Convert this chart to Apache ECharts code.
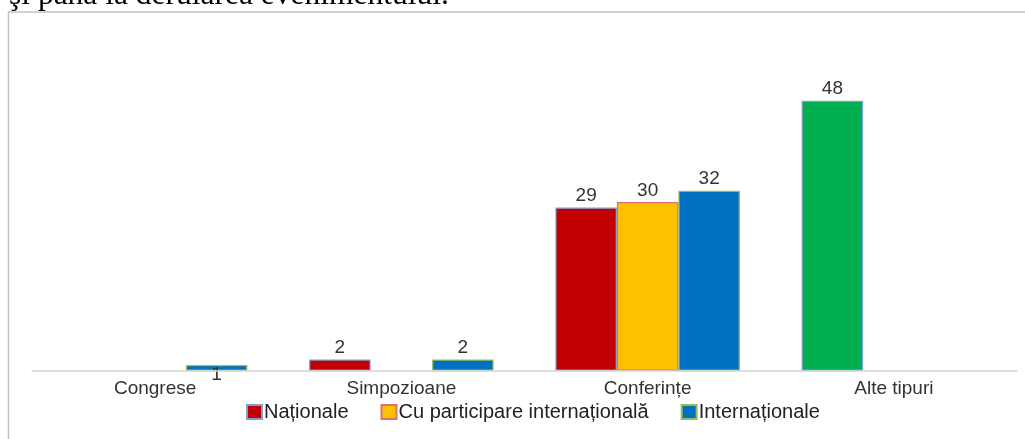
<!DOCTYPE html>
<html>
<head>
<meta charset="utf-8">
<script src="https://cdn.jsdelivr.net/npm/echarts@6/dist/echarts.min.js"></script>
<style>
html,body{margin:0;padding:0;background:#fff;}
#chart{width:1025px;height:439px;}
</style>
</head>
<body>
<div id="chart"></div>
<script>
var categories = ['Congrese', 'Simpozioane', 'Conferințe', 'Alte tipuri'];
var seriesNames = ['Naționale', 'Cu participare internațională', 'Internaționale'];
var nationale = [null, 2, 29, 48];
var cuParticipare = [null, null, 30, null];
var internationale = [1, 2, 32, null];
var headerText = 'şi până la derularea evenimentului.';

var fills = ['#C00000', '#FFC000', '#0070C0'];
var borders = ['#7F9FD0', '#E07070', '#9BBB59'];
var labelColor = '#333333';
var font = 'Liberation Sans, Arial, sans-serif';

function build(values, idx) {
  return values.map(function (v, i) {
    var item = { value: v };
    if (idx === 0 && i === 3) {
      item.itemStyle = { color: '#00B050', borderColor: '#7F9FD0' };
    }
    if (idx === 2 && i === 0) {
      item.label = { position: 'bottom', distance: -5 };
    }
    return item;
  });
}

var allValues = [nationale, cuParticipare, internationale];
var series = allValues.map(function (vals, idx) {
  return {
    name: seriesNames[idx],
    type: 'bar',
    data: build(vals, idx),
    barWidth: 61.5,
    barGap: '0%',
    itemStyle: { color: fills[idx], borderColor: borders[idx], borderWidth: 1.2 },
    label: { show: true, position: 'top', distance: 2, color: labelColor, fontSize: 19, fontFamily: font },
    z: 4
  };
});

var chart = echarts.init(document.getElementById('chart'));
chart.setOption({
  backgroundColor: '#ffffff',
  animation: false,
  graphic: [
    { type: 'text', left: 9, top: -20, z: 0, style: { text: headerText, font: '31.5px "Liberation Serif", "Times New Roman", serif', fill: '#000' } },
    { type: 'rect', z: 1, shape: { x: 8.5, y: 12, width: 1100, height: 600 }, style: { fill: '#ffffff', stroke: '#c3c3c3', lineWidth: 1.5 } }
  ],
  legend: {
    left: 241, top: 397,
    itemWidth: 15, itemHeight: 14, itemGap: 32,
    icon: 'rect',
    textStyle: { color: '#222', fontSize: 20, fontFamily: font, padding: [0, 0, 0, -3] },
    data: seriesNames
  },
  grid: { left: 32, right: 8, top: 33.2, bottom: 68.3 },
  xAxis: {
    type: 'category', data: categories, z: 5,
    axisLine: { lineStyle: { color: '#d4d4d4', width: 1.5 } },
    axisTick: { show: false },
    axisLabel: { color: labelColor, fontSize: 19, fontFamily: font, margin: 9 }
  },
  yAxis: { type: 'value', min: 0, max: 60, show: false, splitLine: { show: false } },
  series: series
});
</script>
</body>
</html>
